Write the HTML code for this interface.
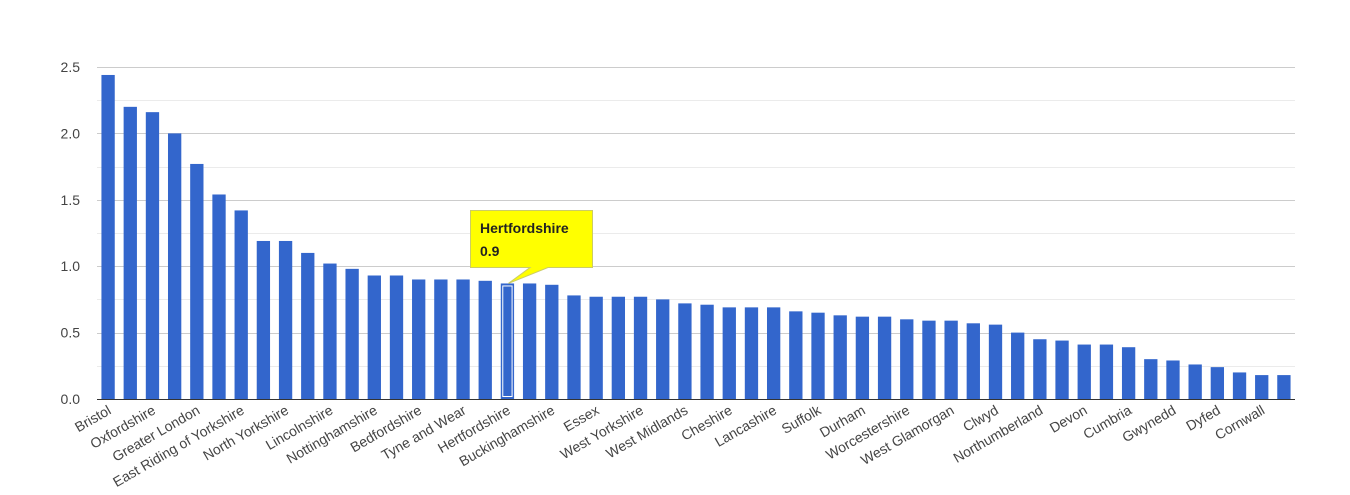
<!DOCTYPE html>
<html><head><meta charset="utf-8"><style>
body{margin:0;background:#fff;}
text{font-family:"Liberation Sans",Arial,sans-serif;}
</style></head><body>
<svg id="chart" width="1350" height="490" xmlns="http://www.w3.org/2000/svg">
<g id="grid"></g>
<g id="yaxis"></g>
<g id="bars"></g>
<g id="xaxis"></g>
<g id="tip"></g>
</svg>
<script>
const categories=["Bristol","","Oxfordshire","","Greater London","","East Riding of Yorkshire","","North Yorkshire","","Lincolnshire","","Nottinghamshire","","Bedfordshire","","Tyne and Wear","","Hertfordshire","","Buckinghamshire","","Essex","","West Yorkshire","","West Midlands","","Cheshire","","Lancashire","","Suffolk","","Durham","","Worcestershire","","West Glamorgan","","Clwyd","","Northumberland","","Devon","","Cumbria","","Gwynedd","","Dyfed","","Cornwall",""];
const values=[2.44,2.20,2.16,2.00,1.77,1.54,1.42,1.19,1.19,1.10,1.02,0.98,0.93,0.93,0.90,0.90,0.90,0.89,0.87,0.87,0.86,0.78,0.77,0.77,0.77,0.75,0.72,0.71,0.69,0.69,0.69,0.66,0.65,0.63,0.62,0.62,0.60,0.59,0.59,0.57,0.56,0.50,0.45,0.44,0.41,0.41,0.39,0.30,0.29,0.26,0.24,0.20,0.18,0.18];
const yTicks=["0.0","0.5","1.0","1.5","2.0","2.5"];
const highlightIndex=18;
const tipName="Hertfordshire", tipValue="0.9";
const NS="http://www.w3.org/2000/svg";
const x0=97,x1=1295,y0=399,yTop=67,yMax=2.5;
const step=(x1-x0)/values.length;
const yScale=v=>y0-(v/yMax)*(y0-yTop);
const xCenter=i=>x0+step*(i+0.5);
function mk(tag,attrs,parent){const e=document.createElementNS(NS,tag);for(const k in attrs)e.setAttribute(k,attrs[k]);parent.appendChild(e);return e;}
const grid=document.getElementById('grid'),ya=document.getElementById('yaxis'),bars=document.getElementById('bars'),xa=document.getElementById('xaxis'),tip=document.getElementById('tip');
for(let k=0;k<yTicks.length*2-1;k++){
  const v=k*0.25,y=Math.round(yScale(v))+0.5;
  const l=mk('line',{x1:x0,x2:x1,y1:y,y2:y,stroke:k%2?'#ebebeb':'#cccccc','stroke-width':1},grid);
  
  
}
yTicks.forEach(t=>{
  const t1=mk('text',{x:80,y:yScale(parseFloat(t))+5,'text-anchor':'end','font-size':14,fill:'#444'},ya);
  t1.textContent=t;
  
  
});
const bw=step*0.6;
values.forEach((v,i)=>{
  const r=mk('rect',{x:xCenter(i)-bw/2,y:yScale(v),width:bw,height:y0-yScale(v),fill:'#3366cc'},bars);
  
  
  if(i===highlightIndex){
    const h=mk('rect',{x:xCenter(i)-bw/2+2,y:yScale(v)+2.5,width:bw-4,height:y0-yScale(v)-5,fill:'none',stroke:'#fff','stroke-width':1},bars);
    
    
  }
});
const ax=mk('line',{x1:x0,x2:x1,y1:y0+0.5,y2:y0+0.5,stroke:'#333','stroke-width':1},xa);


categories.forEach((c,i)=>{
  if(!c)return;
  const cx=xCenter(i)+4,cy=413;
  const t=mk('text',{x:cx,y:cy,'text-anchor':'end','font-size':14,fill:'#444',transform:`rotate(-30 ${cx} ${cy})`},xa);
  t.textContent=c;
  
  
});
const hx=xCenter(highlightIndex),hy=yScale(values[highlightIndex]);
const p=mk('path',{d:`M470.5 210.5 H592.5 V267.5 H548 L${hx+1} ${hy} L530 267.5 H470.5 Z`,fill:'#ffff00',stroke:'#cccc66','stroke-width':1},tip);


const tn=mk('text',{x:480,y:233,'font-size':14,'font-weight':'bold',fill:'#222'},tip);
tn.textContent=tipName;


const tv=mk('text',{x:480,y:256,'font-size':14,'font-weight':'bold',fill:'#222'},tip);
tv.textContent=tipValue;


</script>
</body></html>
